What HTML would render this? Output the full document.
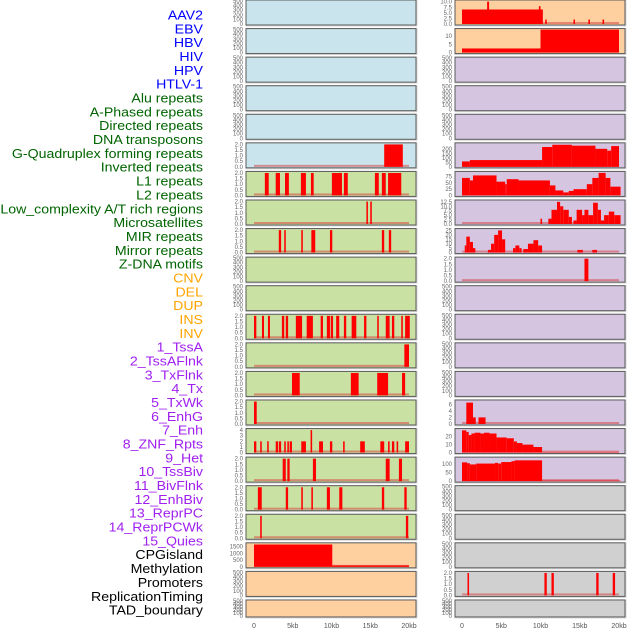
<!DOCTYPE html>
<html><head><meta charset="utf-8">
<style>
html,body{margin:0;padding:0;background:#fff;width:630px;height:630px;overflow:hidden}
svg{display:block}
</style></head>
<body>
<svg id="chart" width="630" height="630" xmlns="http://www.w3.org/2000/svg" font-family="Liberation Sans, sans-serif"></svg>
<script>
// ---- Data (kb start, kb end, value) ----
const trackLabels = ["AAV2","EBV","HBV","HIV","HPV","HTLV-1","Alu repeats","A-Phased repeats","Directed repeats","DNA transposons","G-Quadruplex forming repeats","Inverted repeats","L1 repeats","L2 repeats","Low_complexity A/T rich regions","Microsatellites","MIR repeats","Mirror repeats","Z-DNA motifs","CNV","DEL","DUP","INS","INV","1_TssA","2_TssAFlnk","3_TxFlnk","4_Tx","5_TxWk","6_EnhG","7_Enh","8_ZNF_Rpts","9_Het","10_TssBiv","11_BivFlnk","12_EnhBiv","13_ReprPC","14_ReprPCWk","15_Quies","CPGisland","Methylation","Promoters","ReplicationTiming","TAD_boundary"];
const labelGroups = [0,0,0,0,0,0,1,1,1,1,1,1,1,1,1,1,1,1,1,2,2,2,2,2,3,3,3,3,3,3,3,3,3,3,3,3,3,3,3,4,4,4,4,4];
const xTicksKb = [0,5,10,15,20];
const xTickLabels = ["0","5kb","10kb","15kb","20kb"];

const r0R = [[0,10.3,6.5],[3.2,3.45,10],[9.8,10.0,8],[10.6,10.8,2],[14.2,14.4,2],[16.1,16.3,2],[17.9,18.1,2]];
const r1R = [[0,10,2.5],[10,20,14]];
const r5L = [[16.8,19.2,2]];
const r5R = [[0,1,60],[1,10.2,75],[10.2,11.5,220],[11.5,14,245],[14,17,235],[17,18.5,200],[18.5,19,180],[19,20,230]];
const r6L = [[1.4,1.9,2],[2.8,3.35,2],[4.0,4.5,2],[6.05,6.7,2],[7.35,7.7,2],[10.05,11.35,2],[11.6,12.1,2],[15.6,16.1,2],[16.5,17.0,2],[17.3,19.0,2]];
const r6R = [[0,1,70],[1,1.4,60],[1.4,4.4,80],[4.4,5.5,55],[5.5,5.7,45],[5.7,7.2,65],[7.2,11.2,60],[11.2,11.9,40],[11.9,12.9,20],[12.9,13.6,12],[13.6,14.2,18],[14.2,15.9,25],[15.9,16.6,45],[16.6,17.4,70],[17.4,18.3,90],[18.3,18.9,70],[18.9,20.2,35]];
const r7L = [[14.5,14.7,2],[15.0,15.2,2]];
const r7R = [[10,10.2,3],[11.0,11.4,3],[11.4,12.1,8],[12.1,12.5,12.5],[12.5,12.9,10],[12.9,13.6,8],[13.6,14.0,4],[14.2,14.6,2],[14.6,15.3,8],[15.3,15.6,5],[15.6,16.1,8],[16.1,16.7,5],[16.7,17.3,12],[17.3,17.7,8],[17.7,18.1,2],[18.1,18.7,5],[18.7,19.4,7],[19.4,20.2,5]];
const r8L = [[3.2,3.5,2],[3.9,4.1,2],[6.1,6.3,2],[7.4,7.9,2],[9.8,10.1,2],[16.5,16.8,2],[17.4,17.7,2]];
const r8R = [[0.35,0.55,8],[0.55,1.0,18],[1.0,1.4,12],[1.4,1.7,5],[3.3,3.7,3],[3.7,4.1,10],[4.1,4.6,20],[4.6,5.1,25],[5.1,5.5,15],[6.5,6.8,5],[6.8,7.3,8],[7.3,7.6,5],[7.8,8.4,4],[8.4,9.1,10],[9.1,9.7,14],[9.7,10.2,8],[14.7,15.4,3],[16.6,17.2,3]];
const r9R = [[15.6,16.1,2]];
const r11L = [[0,0.3,2],[1.03,1.29,2],[1.8,2.06,2],[3.6,3.9,2],[4.1,4.4,2],[5.4,6.2,2],[6.8,7.6,2],[8.6,8.9,2],[9.4,9.8,2],[9.9,10.2,2],[10.6,11.0,2],[11.6,11.9,2],[12.6,13.2,2],[14.2,14.5,2],[15.9,16.1,2],[17.0,17.5,2],[17.8,18.1,2],[19.0,19.2,2],[19.5,20.1,2]];
const r12L = [[19.4,20.0,2]];
const r13L = [[4.9,5.9,2],[12.5,13.5,2],[15.9,17.3,2],[19.1,19.5,2]];
const r14L = [[0,0.35,2]];
const r14R = [[0.55,1.4,6.5],[1.4,1.75,2],[2.1,3.0,2]];
const r15L = [[0,0.3,2],[0.8,1.0,2],[1.7,1.9,2],[2.8,3.1,2],[3.2,3.5,2],[3.9,4.1,2],[4.3,4.5,2],[4.6,4.9,2],[6.1,6.7,2],[7.3,7.5,4],[8.4,8.9,2],[9.8,10.1,2],[11.5,11.7,2],[13.7,14.3,2],[16.3,16.8,2],[17.3,17.5,2],[17.8,18.1,2],[18.4,18.6,2],[19.5,20.0,2]];
const r15R = [[0,0.55,28],[0.55,0.85,26],[0.85,1.2,22],[1.2,1.6,24],[1.6,2.35,25],[2.35,2.8,24],[2.8,3.5,25],[3.5,4.4,24],[4.4,5.7,19],[5.7,6.6,18],[6.6,7.0,14],[7.0,7.7,12],[7.7,9.1,10],[9.1,10.2,7],[10.2,20,0.5]];
const r16L = [[3.7,4.1,2],[4.3,4.6,2],[7.6,8.0,2],[17.0,17.5,2],[18.7,19.1,2]];
const r16R = [[0,0.65,110],[0.65,1.0,105],[1.0,1.8,98],[1.8,4.2,103],[4.2,4.6,107],[4.6,5.0,103],[5.0,6.3,112],[6.3,6.7,117],[6.7,10.2,122],[10.2,20.2,3]];
const r17L = [[0.5,1.0,2],[4.1,4.4,2],[6.1,6.3,2],[7.4,7.6,2],[9.4,9.8,2],[11.0,11.4,2],[16.5,16.8,2],[19.4,19.7,2]];
const r18L = [[0.8,1.0,2],[19.6,19.9,2]];
const r19L = [[0,10.1,1650],[10.1,20,100]];
const r20R = [[0.7,0.9,2],[10.5,10.8,2],[11.4,11.7,2],[17.1,17.4,2],[19.2,19.5,2]];

// ---- Tick sets ----
const tEmpty = [[0,100,200,300,400,500],["0","100","200","300","400","500"],500];
const tTwo = [[0,0.5,1,1.5,2],["0.0","0.5","1.0","1.5","2.0"],2.05];

const B="#c9e4ec",G="#c9e1a3",P="#ffd09f",V="#d5c5e1",Y="#d0d0d0";
const rowBg = [[B,P],[B,P],[B,V],[B,V],[B,V],[B,V],[G,V],[G,V],[G,V],[G,V],[G,V],[G,V],[G,V],[G,V],[G,V],[G,V],[G,V],[G,Y],[G,Y],[P,Y],[P,Y],[P,Y]];
const panels = {
 0:[null,tEmpty,r0R,[[0,2.5,5,7.5,10],["0.0","2.5","5.0","7.5","10.0"],10.3]],
 1:[null,tEmpty,r1R,[[0,5,10],["0","5","10"],14]],
 5:[r5L,tTwo,r5R,[[0,50,100,150,200],["0","50","100","150","200"],255]],
 6:[r6L,tTwo,r6R,[[0,25,50,75],["0","25","50","75"],92]],
 7:[r7L,tTwo,r7R,[[0,2.5,5,7.5,10,12.5],["0.0","2.5","5.0","7.5","10.0","12.5"],13]],
 8:[r8L,tTwo,r8R,[[0,5,10,15,20,25],["0","5","10","15","20","25"],26]],
 9:[null,tEmpty,r9R,tTwo],
 11:[r11L,tTwo,null,tEmpty],
 12:[r12L,tTwo,null,tEmpty],
 13:[r13L,tTwo,null,tEmpty],
 14:[r14L,tTwo,r14R,[[0,2,4,6],["0","2","4","6"],7]],
 15:[r15L,[[0,1,2,3,4],["0","1","2","3","4"],4.1],r15R,[[0,10,20],["0","10","20"],29]],
 16:[r16L,tTwo,r16R,[[0,50,100],["0","50","100"],135]],
 17:[r17L,tTwo,null,tEmpty],
 18:[r18L,tTwo,null,tEmpty],
 19:[r19L,[[0,500,1000,1500],["0","500","1000","1500"],1700],null,tEmpty],
 20:[null,tEmpty,r20R,tTwo]
};

const NS="http://www.w3.org/2000/svg";
const svg=document.getElementById('chart');
function mk(tag,attrs,parent){const e=document.createElementNS(NS,tag);for(const k in attrs)e.setAttribute(k,attrs[k]);(parent||svg).appendChild(e);return e;}

const L={x0:246,x1:416,z:254,k:7.75}, R={x0:455,x1:625,z:462,k:7.85};
function xs(side,kb){return side.z+kb*side.k;}

const labelColors=["#0000ff","#006400","#ffa500","#a020f0","#000000"];
const labelGroup=mk('g',{transform:'translate(203,0) scale(1.09,1)'});


trackLabels.forEach((t,i)=>{
  const el=mk('text',{x:0,y:15+i*13.84+4.5,'text-anchor':'end','font-size':'13',fill:labelColors[labelGroups[i]]},labelGroup);
  el.textContent=t;
  
  
});

function drawPanel(row,sideIdx,bg,series,ticks){
  const side=sideIdx===0?L:R;
  const top=row*28.57, h=row===21?17:25, bot=top+h-1;
  const g=mk('g',{});
  
  
  mk('rect',{x:side.x0-0.5,y:top-0.5,width:side.x1-side.x0+2,height:h+2,fill:'#d8d8d8'},g);
  mk('rect',{x:side.x0,y:top,width:side.x1-side.x0,height:h,fill:bg,stroke:'#5a5a5a','stroke-width':1},g);
  const [tv,tl,ymax]=ticks||tEmpty;
  const ys=v=>bot-v/ymax*(h-2);
  tv.forEach((v,i)=>{
    const t=mk('text',{x:side.x0-3,y:ys(v)+2,'text-anchor':'end','font-size':'6',fill:'#666'},g);
    t.textContent=tl[i];
    
    
  });
  if(series){
    mk('rect',{x:xs(side,0),y:bot-2,width:20*side.k,height:2,fill:'rgba(215,70,70,0.55)'},g);
    series.forEach(s=>{
      const y=ys(s[2]);
      const r=mk('rect',{x:xs(side,s[0]),y:y,width:Math.max(1,(s[1]-s[0])*side.k),height:bot-y,fill:'#ff0000'},g);
      
      
    });
  }
}
for(let r=0;r<22;r++){
  const p=panels[r]||[null,tEmpty,null,tEmpty];
  drawPanel(r,0,rowBg[r][0],p[0],p[1]);
  drawPanel(r,1,rowBg[r][1],p[2],p[3]);
}
[L,R].forEach((side,si)=>{
  xTicksKb.forEach((kb,i)=>{
    const t=mk('text',{x:xs(side,kb),y:628,'text-anchor':'middle','font-size':'7',fill:'#555'});
    t.textContent=xTickLabels[i];
    
    
  });
});
</script>
</body></html>
